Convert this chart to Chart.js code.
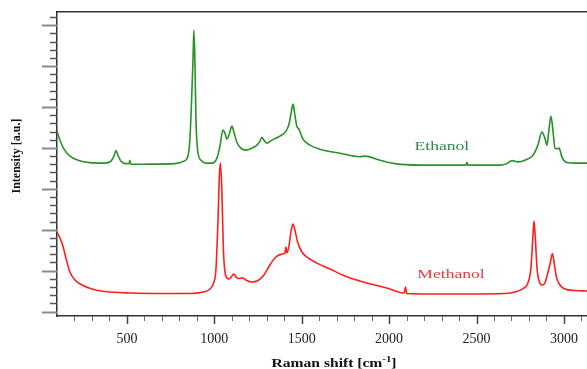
<!DOCTYPE html>
<html>
<head>
<meta charset="utf-8">
<script src="https://cdn.jsdelivr.net/npm/chart.js@4.4.0/dist/chart.umd.min.js"></script>
<style>
  html, body { margin: 0; padding: 0; background: #fff; }
  canvas { display: block; }
</style>
</head>
<body>
<canvas id="ramanChart" width="587" height="369"></canvas>
<script>
// Raman shift (cm-1) / intensity (a.u.)
const ethanolShift = [
  100, 117, 140, 174, 220, 288, 374, 408, 426, 437,
  449, 466, 494, 512, 517, 522, 632, 775, 826, 849,
  860, 872, 878, 883, 889, 895, 906, 924, 952, 987,
  1015, 1032, 1049, 1061, 1072, 1087, 1101, 1112, 1129, 1152,
  1181, 1215, 1244, 1261, 1272, 1284, 1301, 1330, 1375, 1410,
  1427, 1438, 1450, 1461, 1472, 1484, 1507, 1547, 1604, 1718,
  1833, 1862, 1947, 2033, 2176, 2440, 2445, 2450, 2634, 2674,
  2703, 2737, 2777, 2823, 2851, 2874, 2891, 2903, 2914, 2926,
  2937, 2949, 2960, 2972, 2989, 3012, 3063, 3132
];
const ethanolIntensity = [
  22.05, 20.95, 19.85, 19.0, 18.5, 18.2, 18.14, 18.38, 19.0, 19.67,
  19.1, 18.38, 18.08, 18.08, 18.5, 18.0, 18.02, 18.08, 18.38, 19.0,
  20.95, 27.05, 30.7, 34.4, 30.7, 23.4, 19.5, 18.5, 18.14, 18.14,
  18.75, 20.2, 22.2, 21.8, 21.07, 21.8, 22.66, 21.93, 20.7, 19.97,
  19.73, 19.97, 20.34, 20.83, 21.3, 20.95, 20.58, 20.95, 21.44, 22.05,
  22.9, 24.1, 25.35, 24.0, 22.66, 22.3, 21.07, 20.34, 19.85, 19.36,
  18.93, 19.0, 18.5, 18.08, 17.9, 17.9, 18.25, 17.9, 17.9, 18.08,
  18.45, 18.3, 18.5, 19.1, 20.34, 21.93, 21.2, 20.34, 22.17, 23.88,
  22.17, 19.97, 19.9, 19.97, 18.87, 18.26, 18.14, 18.14
];

const methanolShift = [
  100, 117, 134, 151, 174, 203, 243, 300, 374, 517,
  689, 860, 935, 975, 998, 1009, 1021, 1029, 1035, 1043,
  1052, 1066, 1084, 1101, 1112, 1124, 1141, 1164, 1181, 1215,
  1250, 1284, 1318, 1352, 1387, 1404, 1410, 1415, 1427, 1438,
  1450, 1461, 1478, 1501, 1530, 1587, 1662, 1747, 1833, 1919,
  2005, 2085, 2094, 2100, 2233, 2462, 2663, 2720, 2766, 2794,
  2811, 2823, 2829, 2837, 2846, 2860, 2874, 2891, 2909, 2923,
  2934, 2946, 2957, 2977, 3006, 3063, 3132
];
const methanolIntensity = [
  9.71, 8.98, 8.0, 6.54, 4.83, 3.85, 3.24, 2.75, 2.44, 2.26,
  2.2, 2.2, 2.38, 2.75, 3.6, 5.07, 11.18, 16.67, 18.14, 14.84,
  7.51, 4.34, 3.97, 4.34, 4.58, 4.21, 4.03, 4.09, 3.85, 3.6,
  3.79, 4.46, 5.68, 6.66, 7.02, 7.15, 7.88, 7.15, 7.99, 9.71,
  10.69, 9.96, 8.37, 7.27, 6.66, 5.92, 5.19, 4.34, 3.73, 3.24,
  2.75, 2.26, 2.99, 2.2, 2.14, 2.14, 2.2, 2.38, 2.81, 3.48,
  5.31, 9.35, 11.06, 8.73, 5.31, 3.6, 3.24, 3.48, 4.83, 6.05,
  7.09, 5.68, 4.21, 3.24, 2.75, 2.57, 2.5
];

const xMajorTicks = [500, 1000, 1500, 2000, 2500, 3000];

// where the series names sit (data coords)
const nameTags = [
  { text: 'Ethanol', x: 2302, y: 20.2, color: '#2f8a4f' },
  { text: 'Methanol', x: 2354, y: 4.5, color: '#f03a3a' }
];

const toPoints = (xs, ys) => xs.map((v, i) => ({ x: v, y: ys[i] }));

// no extra padding at the ends of the axes, the plot runs off the right edge
const fixHeight = h => s => { s.height = h; s.paddingLeft = 0; s.paddingRight = 0; };

// ticks, series names and axis titles
const spectrumDecor = {
  id: 'spectrumDecor',
  afterDraw(chart) {
    const { ctx, chartArea, scales: { x, y } } = chart;
    ctx.save();

    // x ticks: minor every 100, major every 500
    for (let v = 200; v <= 3100; v += 100) {
      const px = Math.round(x.getPixelForValue(v)) + 0.5;
      const major = xMajorTicks.includes(v);
      ctx.strokeStyle = major ? '#444' : '#666';
      ctx.lineWidth = major ? 1.5 : 1;
      ctx.beginPath();
      ctx.moveTo(px, chartArea.bottom);
      ctx.lineTo(px, chartArea.bottom + (major ? 8 : 5));
      ctx.stroke();
    }

    // y ticks: no labels, long one every 5
    for (let v = 0; v <= 36; v++) {
      const py = Math.round(y.getPixelForValue(v)) + 0.5;
      const major = v % 5 === 0;
      ctx.strokeStyle = major ? '#8a8a8a' : '#555';
      ctx.lineWidth = major ? 2 : 1.5;
      ctx.beginPath();
      ctx.moveTo(chartArea.left - (major ? 15 : 7), py);
      ctx.lineTo(chartArea.left, py);
      ctx.stroke();
    }

    // series names
    ctx.font = '13px "Liberation Serif", serif';
    ctx.textAlign = 'center';
    ctx.textBaseline = 'middle';
    nameTags.forEach(tag => {
      ctx.save();
      ctx.translate(x.getPixelForValue(tag.x), y.getPixelForValue(tag.y));
      ctx.scale(1.35, 1);
      ctx.fillStyle = tag.color;
      ctx.fillText(tag.text, 0, 0);
      ctx.restore();
    });

    // y title
    ctx.save();
    ctx.translate(17, 156);
    ctx.rotate(-Math.PI / 2);
    ctx.font = 'bold 12px "Liberation Serif", serif';
    ctx.fillStyle = '#111';
    ctx.fillText('Intensity [a.u.]', 0, 0);
    ctx.restore();

    // x title with superscript
    ctx.save();
    ctx.translate(334, 363);
    ctx.scale(1.2, 1);
    ctx.fillStyle = '#111';
    ctx.textAlign = 'left';
    ctx.textBaseline = 'alphabetic';
    const big = 'bold 13px "Liberation Serif", serif';
    const small = 'bold 9px "Liberation Serif", serif';
    ctx.font = big;
    const wa = ctx.measureText('Raman shift [cm').width;
    const wb = ctx.measureText(']').width;
    ctx.font = small;
    const ws = ctx.measureText('-1').width;
    let cx = -(wa + ws + wb) / 2;
    ctx.font = big;
    ctx.fillText('Raman shift [cm', cx, 4);
    cx += wa;
    ctx.font = small;
    ctx.fillText('-1', cx, -1);
    cx += ws;
    ctx.font = big;
    ctx.fillText(']', cx, 4);
    ctx.restore();

    ctx.restore();
  }
};

new Chart(document.getElementById('ramanChart'), {
  type: 'line',
  data: {
    datasets: [
      {
        label: 'Ethanol',
        data: toPoints(ethanolShift, ethanolIntensity),
        borderColor: 'rgb(40,145,40)',
        borderWidth: 1.6,
        pointRadius: 0,
        cubicInterpolationMode: 'monotone'
      },
      {
        label: 'Methanol',
        data: toPoints(methanolShift, methanolIntensity),
        borderColor: 'rgb(255,30,30)',
        borderWidth: 1.6,
        pointRadius: 0,
        cubicInterpolationMode: 'monotone'
      }
    ]
  },
  options: {
    responsive: false,
    animation: false,
    layout: { padding: 0 },
    plugins: { legend: { display: false }, tooltip: { enabled: false } },
    scales: {
      x: {
        type: 'linear',
        position: 'bottom',
        min: 100,
        max: 3132,
        afterFit: fixHeight(53),
        grid: { display: false },
        border: { display: true, color: '#333', width: 1.5 },
        ticks: {
          stepSize: 100,
          padding: 8,
          color: '#222',
          font: { family: '"Liberation Serif", serif', size: 14, lineHeight: 1 },
          maxRotation: 0,
          autoSkip: false,
          callback: v => (xMajorTicks.includes(v) ? String(v) : '')
        }
      },
      xTop: {
        type: 'linear',
        position: 'top',
        min: 100,
        max: 3132,
        afterFit: fixHeight(12),
        grid: { display: false },
        border: { display: true, color: '#333', width: 1.5 },
        ticks: { display: false }
      },
      y: {
        type: 'linear',
        min: -0.55,
        max: 36.62,
        afterFit: s => { s.width = 57; s.paddingTop = 0; s.paddingBottom = 0; },
        grid: { display: false },
        border: { display: true, color: '#333', width: 1.5 },
        ticks: { display: false }
      }
    }
  },
  plugins: [spectrumDecor]
});
</script>
</body>
</html>
